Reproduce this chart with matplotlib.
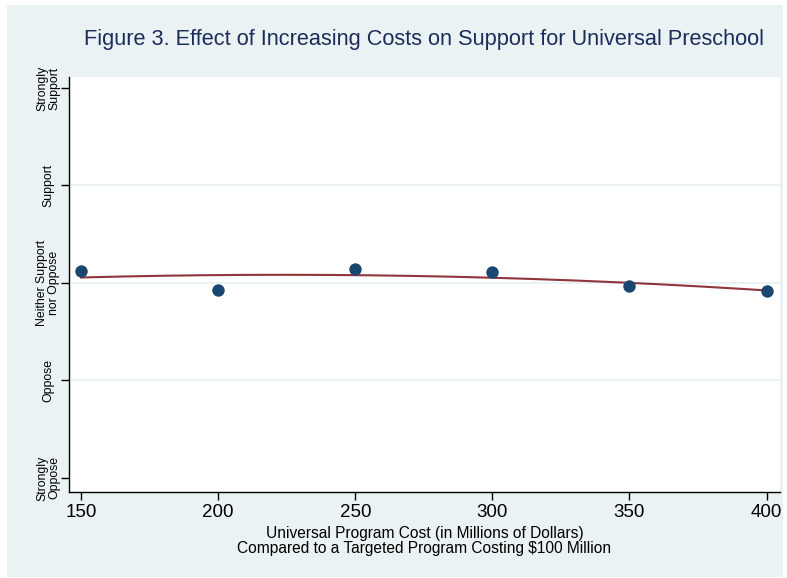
import matplotlib.pyplot as plt
import matplotlib.patches as mpatches
import numpy as np

plt.rcParams['font.family'] = ['Liberation Sans', 'DejaVu Sans']

# mean support at each universal program cost ($ millions)
costs = [150, 200, 250, 300, 350, 400]
support = [3.123, 2.928, 3.144, 3.113, 2.970, 2.918]

y_levels = [1, 2, 3, 4, 5]
y_labels = ['Strongly\nOppose', 'Oppose', 'Neither Support\nnor Oppose',
            'Support', 'Strongly\nSupport']

bg = '#eaf2f3'
navy = '#1a476f'
maroon = '#90353b'

fig = plt.figure(figsize=(7.87, 5.78), dpi=100)
fig.patch.set_facecolor('white')
fig.add_artist(mpatches.Rectangle((0.0089, 0.0017), 0.986, 0.9896,
                                  transform=fig.transFigure,
                                  facecolor=bg, edgecolor='none', zorder=-10))

ax = fig.add_axes([0.0877, 0.1488, 0.9034, 0.718])
ax.set_facecolor('white')

# gridlines at the inner levels only
for lv in y_levels[1:-1]:
    ax.axhline(lv, color=bg, lw=1.4, zorder=1)

# quadratic fit
coef = np.polyfit(costs, support, 2)
xs = np.linspace(min(costs), max(costs), 200)
ax.plot(xs, np.polyval(coef, xs), color=maroon, lw=1.5, zorder=2)

ax.scatter(costs, support, s=80, color=navy, zorder=3, linewidths=0)

ax.set_xlim(145.6, 404.9)
ax.set_ylim(0.856, 5.113)

ax.spines['top'].set_visible(False)
ax.spines['right'].set_visible(False)
for side in ['left', 'bottom']:
    ax.spines[side].set_linewidth(1.0)
    ax.spines[side].set_color('black')

ax.set_xticks(costs)
ax.set_xticklabels([str(c) for c in costs], fontsize=13.5)
ax.set_yticks(y_levels)
ax.set_yticklabels(y_labels, rotation=90, va='center', ha='center',
                   fontsize=8.8, linespacing=1.05)
ax.tick_params(axis='y', length=6, width=1, pad=9)
ax.tick_params(axis='x', length=6, width=1, pad=3)

ax.set_xlabel('Universal Program Cost (in Millions of Dollars)\n'
              'Compared to a Targeted Program Costing $100 Million',
              fontsize=11.2, linespacing=1.0, labelpad=3)

fig.text(0.539, 0.9325,
         'Figure 3. Effect of Increasing Costs on Support for Universal Preschool',
         ha='center', va='center', fontsize=15.7, color='#1c2d5a')

fig.savefig('out.png', dpi=100, facecolor=fig.get_facecolor())
